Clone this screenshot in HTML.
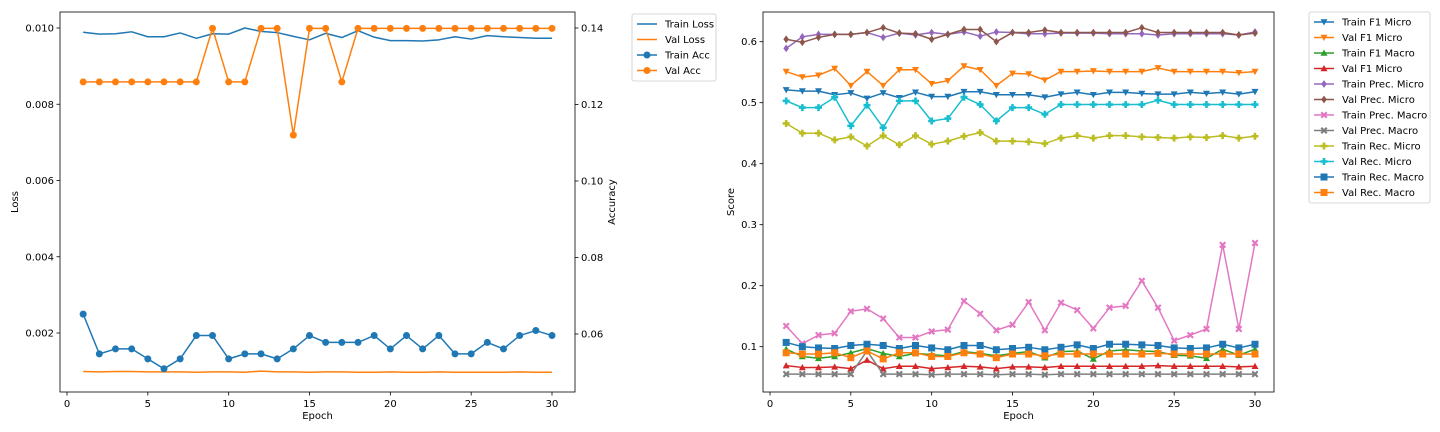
<!DOCTYPE html>
<html><head><meta charset="utf-8"><style>
body{margin:0;background:#fff;}
svg{display:block;font-family:"DejaVu Sans","Liberation Sans",sans-serif;}
</style></head><body>
<svg id="c" width="1440" height="432" viewBox="0 0 1440 432"></svg>
<script>
const epochs=[1,2,3,4,5,6,7,8,9,10,11,12,13,14,15,16,17,18,19,20,21,22,23,24,25,26,27,28,29,30];
const trainLoss=[0.00989,0.00984,0.00985,0.0099,0.00977,0.00977,0.00987,0.00973,0.00985,0.00984,0.01,0.00991,0.00988,0.00978,0.00969,0.00986,0.00975,0.00993,0.00976,0.00967,0.00967,0.00966,0.00969,0.00977,0.00971,0.0098,0.00977,0.00975,0.00973,0.00973];
const valLoss=[0.00099,0.00098,0.00099,0.00099,0.00098,0.00098,0.00098,0.00097,0.00098,0.00098,0.00097,0.001,0.00098,0.00098,0.00097,0.00098,0.00098,0.00097,0.00097,0.00098,0.00097,0.00097,0.00098,0.00097,0.00097,0.00097,0.00097,0.00098,0.00097,0.00097];
const trainAcc=[0.0652,0.0548,0.0561,0.0561,0.0535,0.0509,0.0535,0.0596,0.0596,0.0535,0.0548,0.0548,0.0535,0.0561,0.0596,0.0578,0.0578,0.0578,0.0596,0.0561,0.0596,0.0561,0.0596,0.0548,0.0548,0.0578,0.0561,0.0596,0.0609,0.0596];
const valAcc=[0.1259,0.1259,0.1259,0.1259,0.1259,0.1259,0.1259,0.1259,0.1399,0.1259,0.1259,0.1399,0.1399,0.1120,0.1399,0.1399,0.1259,0.1399,0.1399,0.1399,0.1399,0.1399,0.1399,0.1399,0.1399,0.1399,0.1399,0.1399,0.1399,0.1399];
const lossTicks=[0.002,0.004,0.006,0.008,0.010];
const accTicks=[0.06,0.08,0.10,0.12,0.14];
const xTicks=[0,5,10,15,20,25,30];
const scoreTicks=[0.1,0.2,0.3,0.4,0.5,0.6];

const trainF1Micro=[0.521,0.519,0.519,0.513,0.516,0.507,0.516,0.508,0.517,0.510,0.510,0.518,0.518,0.513,0.513,0.513,0.509,0.514,0.517,0.513,0.517,0.517,0.515,0.514,0.514,0.517,0.515,0.517,0.514,0.518];
const valF1Micro=[0.551,0.542,0.545,0.556,0.528,0.551,0.528,0.554,0.554,0.531,0.536,0.560,0.554,0.528,0.548,0.547,0.537,0.551,0.551,0.552,0.551,0.551,0.551,0.557,0.551,0.551,0.551,0.551,0.549,0.551];
const trainF1Macro=[0.096,0.084,0.081,0.084,0.090,0.097,0.089,0.084,0.089,0.087,0.085,0.092,0.089,0.085,0.089,0.092,0.082,0.092,0.093,0.080,0.093,0.095,0.093,0.092,0.086,0.085,0.081,0.096,0.086,0.096];
const valF1Micro2=[0.069,0.066,0.066,0.067,0.064,0.078,0.064,0.068,0.068,0.064,0.066,0.068,0.067,0.064,0.067,0.067,0.066,0.068,0.068,0.068,0.068,0.068,0.068,0.069,0.068,0.068,0.068,0.068,0.067,0.068];
const trainPrecMicro=[0.589,0.608,0.612,0.612,0.612,0.615,0.607,0.614,0.611,0.615,0.612,0.616,0.609,0.616,0.615,0.613,0.613,0.614,0.614,0.614,0.613,0.613,0.613,0.611,0.613,0.613,0.613,0.613,0.611,0.616];
const valPrecMicro=[0.604,0.599,0.607,0.612,0.612,0.615,0.623,0.614,0.613,0.604,0.612,0.620,0.620,0.600,0.615,0.615,0.619,0.615,0.615,0.615,0.615,0.615,0.623,0.615,0.615,0.615,0.615,0.615,0.611,0.614];
const trainPrecMacro=[0.134,0.105,0.119,0.122,0.158,0.162,0.146,0.115,0.115,0.125,0.128,0.175,0.154,0.127,0.136,0.173,0.127,0.172,0.160,0.130,0.164,0.167,0.208,0.164,0.110,0.119,0.129,0.267,0.129,0.270];
const valPrecMacro=[0.055,0.055,0.055,0.055,0.055,0.093,0.055,0.055,0.055,0.054,0.055,0.055,0.055,0.054,0.055,0.055,0.054,0.055,0.055,0.055,0.055,0.055,0.055,0.055,0.055,0.055,0.055,0.055,0.055,0.055];
const trainRecMicro=[0.466,0.450,0.450,0.439,0.444,0.429,0.446,0.431,0.446,0.432,0.437,0.445,0.451,0.437,0.437,0.436,0.433,0.442,0.446,0.442,0.446,0.446,0.444,0.443,0.442,0.444,0.443,0.446,0.442,0.445];
const valRecMicro=[0.503,0.492,0.492,0.509,0.462,0.496,0.459,0.503,0.503,0.470,0.474,0.509,0.497,0.470,0.492,0.492,0.481,0.497,0.497,0.497,0.497,0.497,0.497,0.504,0.497,0.497,0.497,0.497,0.497,0.497];
const trainRecMacro=[0.107,0.100,0.098,0.097,0.102,0.104,0.102,0.097,0.102,0.098,0.095,0.102,0.102,0.095,0.097,0.099,0.095,0.099,0.103,0.097,0.104,0.104,0.103,0.102,0.098,0.097,0.098,0.104,0.098,0.104];
const valRecMacro=[0.090,0.088,0.088,0.090,0.082,0.093,0.080,0.090,0.090,0.084,0.084,0.090,0.088,0.082,0.088,0.088,0.085,0.088,0.088,0.088,0.088,0.088,0.088,0.089,0.088,0.088,0.088,0.088,0.088,0.088];

const NS="http://www.w3.org/2000/svg";
const svg=document.getElementById('c');
function mk(tag,attrs,parent){const e=document.createElementNS(NS,tag);for(const k in attrs)e.setAttribute(k,attrs[k]);(parent||svg).appendChild(e);return e;}
function txt(s,x,y,attrs,parent){const e=mk('text',Object.assign({x:x,y:y,'font-size':10,fill:'#000'},attrs||{}),parent);e.textContent=s;return e;}

const L={x0:60,x1:575,y0:12,y1:392};
const lx=v=>67+(v)*(552-67)/30;
const ly=v=>28+(0.010-v)*38125;
const ry=v=>28+(0.14-v)*3825;
const R={x0:763,x1:1274,y0:12,y1:392};
const sx=v=>770+v*(1255-770)/30;
const sy=v=>41.7+(0.6-v)*610;

function marker(g,type,x,y,color,s){
  s=s||3.5;let e;
  if(type==='o') e=mk('circle',{cx:x,cy:y,r:s,fill:color},g);
  else if(type==='s') e=mk('rect',{x:x-s,y:y-s,width:2*s,height:2*s,fill:color},g);
  else if(type==='v') e=mk('polygon',{points:`${x-s},${y-s*0.8} ${x+s},${y-s*0.8} ${x},${y+s}`,fill:color},g);
  else if(type==='^') e=mk('polygon',{points:`${x-s},${y+s*0.8} ${x+s},${y+s*0.8} ${x},${y-s}`,fill:color},g);
  else if(type==='D') e=mk('polygon',{points:`${x},${y-s*1.1} ${x+s*0.8},${y} ${x},${y+s*1.1} ${x-s*0.8},${y}`,fill:color},g);
  else if(type==='P') e=mk('path',{d:`M${x-1.3},${y-s}h2.6v${s-1.3}h${s-1.3}v2.6h-${s-1.3}v${s-1.3}h-2.6v-${s-1.3}h-${s-1.3}v-2.6h${s-1.3}z`,fill:color},g);
  else if(type==='X') e=mk('path',{d:`M${x-s},${y-s+1.5}l1.5,-1.5l${s-1.5},${s-1.5}l${s-1.5},-${s-1.5}l1.5,1.5l-${s-1.5},${s-1.5}l${s-1.5},${s-1.5}l-1.5,1.5l-${s-1.5},-${s-1.5}l-${s-1.5},${s-1.5}l-1.5,-1.5l${s-1.5},-${s-1.5}z`,fill:color},g);
  
  
  return e;
}
function series(name,xs,ys,xf,yf,color,m){
  const g=mk('g',{});
  
  
  const pts=xs.map((x,i)=>xf(x)+','+yf(ys[i])).join(' ');
  mk('polyline',{points:pts,fill:'none',stroke:color,'stroke-width':1.5,'stroke-linejoin':'round'},g);
  if(m) xs.forEach((x,i)=>marker(g,m,xf(x),yf(ys[i]),color));
}
function frame(A,name){
  const r=mk('rect',{x:A.x0,y:A.y0,width:A.x1-A.x0,height:A.y1-A.y0,fill:'none',stroke:'#000','stroke-width':0.8});
  
  
}
function xAxis(A,xf,name){
  const g=mk('g',{});
  
  
  xTicks.forEach(t=>{const x=xf(t);mk('line',{x1:x,x2:x,y1:A.y1,y2:A.y1+3.5,stroke:'#000','stroke-width':0.8},g);txt(String(t),x,A.y1+15,{'text-anchor':'middle'},g);});
  txt('Epoch',(A.x0+A.x1)/2,A.y1+27,{'text-anchor':'middle'},g);
}
function yAxis(A,ticks,yf,fmt,side,name,label,lx_){
  const g=mk('g',{});
  
  
  ticks.forEach(t=>{const y=yf(t);
    if(side==='l'){mk('line',{x1:A.x0-3.5,x2:A.x0,y1:y,y2:y,stroke:'#000','stroke-width':0.8},g);txt(fmt(t),A.x0-6,y+3.5,{'text-anchor':'end'},g);}
    else{mk('line',{x1:A.x1,x2:A.x1+3.5,y1:y,y2:y,stroke:'#000','stroke-width':0.8},g);txt(fmt(t),A.x1+6,y+3.5,{'text-anchor':'start'},g);}
  });
  const cy=(A.y0+A.y1)/2;
  txt(label,lx_,cy,{'text-anchor':'middle',transform:`rotate(-90 ${lx_} ${cy})`},g);
}
frame(L,'loss-plot-area');
xAxis(L,lx,'loss-x-axis');
yAxis(L,lossTicks,ly,t=>t.toFixed(3),'l','loss-y-axis','Loss',18);
yAxis(L,accTicks,ry,t=>t.toFixed(2),'r','accuracy-y-axis','Accuracy',615);
series('train-loss-line',epochs,trainLoss,lx,ly,'#1f77b4',null);
series('val-loss-line',epochs,valLoss,lx,ly,'#ff7f0e',null);
series('train-acc-line',epochs,trainAcc,lx,ry,'#1f77b4','o');
series('val-acc-line',epochs,valAcc,lx,ry,'#ff7f0e','o');

frame(R,'score-plot-area');
xAxis(R,sx,'score-x-axis');
yAxis(R,scoreTicks,sy,t=>t.toFixed(1),'l','score-y-axis','Score',734);

const rs=[
 ['Train F1 Micro',trainF1Micro,'#1f77b4','v'],
 ['Val F1 Micro',valF1Micro,'#ff7f0e','v'],
 ['Train F1 Macro',trainF1Macro,'#2ca02c','^'],
 ['Val F1 Micro',valF1Micro2,'#d62728','^'],
 ['Train Prec. Micro',trainPrecMicro,'#9467bd','D'],
 ['Val Prec. Micro',valPrecMicro,'#8c564b','D'],
 ['Train Prec. Macro',trainPrecMacro,'#e377c2','X'],
 ['Val Prec. Macro',valPrecMacro,'#7f7f7f','X'],
 ['Train Rec. Micro',trainRecMicro,'#bcbd22','P'],
 ['Val Rec. Micro',valRecMicro,'#17becf','P'],
 ['Train Rec. Macro',trainRecMacro,'#1f77b4','s'],
 ['Val Rec. Macro',valRecMacro,'#ff7f0e','s']
];
rs.forEach((r,i)=>series('series-'+r[0].toLowerCase().replace(/[^a-z0-9]+/g,'-')+'-'+i,epochs,r[1],sx,sy,r[2],r[3]));

function legend(x,y,w,items,name){
  const g=mk('g',{});
  
  
  mk('rect',{x:x,y:y,width:w,height:items.length*15.5+5,rx:2,fill:'#fff',stroke:'#ccc','stroke-width':0.8},g);
  items.forEach((it,i)=>{
    const e=mk('g',{},g);
    
    
    const cy=y+10+i*15.5;
    mk('line',{x1:x+5,x2:x+25,y1:cy,y2:cy,stroke:it[1],'stroke-width':1.5},e);
    if(it[2]) marker(e,it[2],x+15,cy,it[1]);
    txt(it[0],x+33,cy+3.5,{},e);
  });
}
legend(632,14,84,[['Train Loss','#1f77b4',null],['Val Loss','#ff7f0e',null],['Train Acc','#1f77b4','o'],['Val Acc','#ff7f0e','o']],'loss-legend');
legend(1309,12,121,rs.map(r=>[r[0],r[2],r[3]]),'score-legend');
</script>
</body></html>
